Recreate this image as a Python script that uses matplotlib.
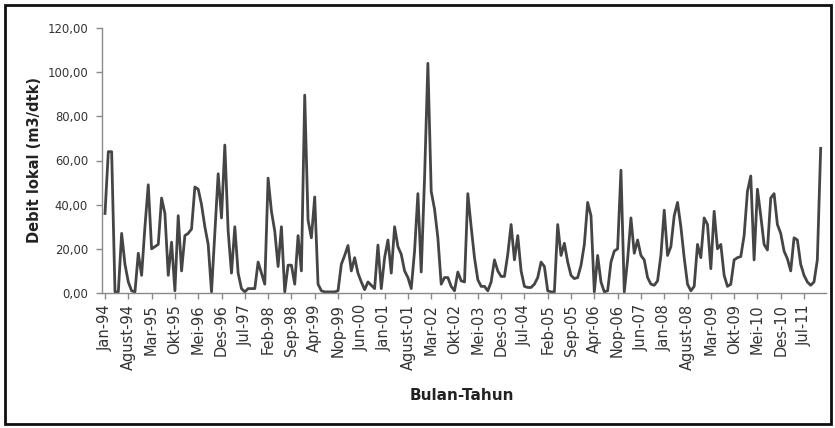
import matplotlib
matplotlib.use("Agg")
import matplotlib.pyplot as plt
from matplotlib.patches import Rectangle

# Monthly local discharge (m3/s), Jan 1994 - Dec 2011, one row per year
debit_1994 = [36, 64, 64, 0.5, 0.5, 27, 13, 5, 1, 0.5, 18, 8]
debit_1995 = [30, 49, 20, 21, 22, 43, 36, 8, 23, 1, 35, 10]
debit_1996 = [26, 27, 29, 48, 47, 40, 30, 22, 0.5, 27, 54, 34]
debit_1997 = [67, 28, 9, 30, 9, 2, 0.5, 2, 2, 2, 14, 9]
debit_1998 = [4, 52, 37, 28, 12, 30, 0.5, 12.6, 12.6, 4, 26, 10]
debit_1999 = [89.6, 33, 25, 43.5, 4, 1, 0.5, 0.5, 0.5, 0.5, 1, 13]
debit_2000 = [17, 21.5, 10, 16, 9, 5, 1.5, 5, 3.5, 2, 21.7, 2]
debit_2001 = [16, 24, 9, 30, 21, 17.5, 10, 7, 2, 19, 45, 9.5]
debit_2002 = [52, 104, 46, 38, 25, 4, 7, 7, 3, 1, 9.5, 5.5]
debit_2003 = [5, 45, 30, 16, 6, 3, 3, 1, 5, 15, 10, 7.5]
debit_2004 = [7.5, 17.5, 31, 15, 26, 10, 3, 2.5, 2.5, 4, 7, 14]
debit_2005 = [12, 1, 0.5, 0.5, 31, 17, 22.5, 14, 8, 6.5, 7, 12.5]
debit_2006 = [22, 41, 35, 0.5, 17, 5, 0.5, 1, 14, 19, 20, 55.6]
debit_2007 = [0.5, 15, 34, 18, 24, 17, 15, 7, 4, 3.5, 5.5, 17]
debit_2008 = [37.5, 17, 21, 35, 41, 30, 16, 4, 1, 3, 22, 16]
debit_2009 = [34, 31, 11, 37, 20, 22, 8, 3, 4, 15, 16, 16.5]
debit_2010 = [26, 46, 53, 15, 47, 35, 22, 19.5, 43, 45, 31, 27]
debit_2011 = [19, 15.5, 10, 25, 24, 13, 8, 5, 3.5, 5, 15, 65.5]

debit = (debit_1994 + debit_1995 + debit_1996 + debit_1997 + debit_1998 +
         debit_1999 + debit_2000 + debit_2001 + debit_2002 + debit_2003 +
         debit_2004 + debit_2005 + debit_2006 + debit_2007 + debit_2008 +
         debit_2009 + debit_2010 + debit_2011)

# Category labels shown every 7 months
label_step = 7
x_labels = ["Jan-94", "Agust-94", "Mar-95", "Okt-95", "Mei-96", "Des-96",
            "Jul-97", "Feb-98", "Sep-98", "Apr-99", "Nop-99", "Jun-00",
            "Jan-01", "Agust-01", "Mar-02", "Okt-02", "Mei-03", "Des-03",
            "Jul-04", "Feb-05", "Sep-05", "Apr-06", "Nop-06", "Jun-07",
            "Jan-08", "Agust-08", "Mar-09", "Okt-09", "Mei-10", "Des-10",
            "Jul-11"]
y_ticks = [0, 20, 40, 60, 80, 100, 120]
y_labels = ["0,00", "20,00", "40,00", "60,00", "80,00", "100,00", "120,00"]

W, H = 835, 428
fig = plt.figure(figsize=(W / 100, H / 100), dpi=100)
fig.patch.set_facecolor("white")

ax = fig.add_axes([102 / W, 1 - 293 / H, (826 - 102) / W, (293 - 28) / H])
ax.plot(range(len(debit)), debit, color="#454545", lw=2.0,
        solid_joinstyle="round")

ax.set_xlim(-0.9, len(debit) + 0.6)
ax.set_ylim(0, 120)
ax.set_yticks(y_ticks)
ax.set_yticklabels(y_labels, fontsize=8.4, color="#333333",
                   family="DejaVu Sans")
ax.set_xticks(range(0, label_step * len(x_labels), label_step))
ax.set_xticklabels(x_labels, rotation=90, fontsize=10.5, color="#333333",
                   family="DejaVu Sans")

for side in ("top", "right"):
    ax.spines[side].set_visible(False)
for side in ("left", "bottom"):
    ax.spines[side].set_color("#8a8a8a")
    ax.spines[side].set_linewidth(1.0)
ax.tick_params(axis="y", length=4, width=1, color="#8a8a8a", pad=6)
ax.tick_params(axis="x", length=4, width=1, color="#8a8a8a", pad=4)

fig.text(35 / W, 1 - 160 / H, "Debit lokal (m3/dtk)", rotation=90,
         ha="center", va="center", fontsize=10.5, fontweight="bold",
         color="#222222", family="DejaVu Sans")
fig.text(462 / W, 1 - 396 / H, "Bulan-Tahun", ha="center", va="center",
         fontsize=11, fontweight="bold", color="#222222",
         family=["Liberation Sans Narrow", "DejaVu Sans"])

fig.patches.append(Rectangle((5 / W, 4 / H), (831 - 5) / W, (424 - 5) / H,
                             transform=fig.transFigure, fill=False,
                             edgecolor="#111111", lw=2.0))

fig.savefig("out.png", dpi=100, facecolor="white")
